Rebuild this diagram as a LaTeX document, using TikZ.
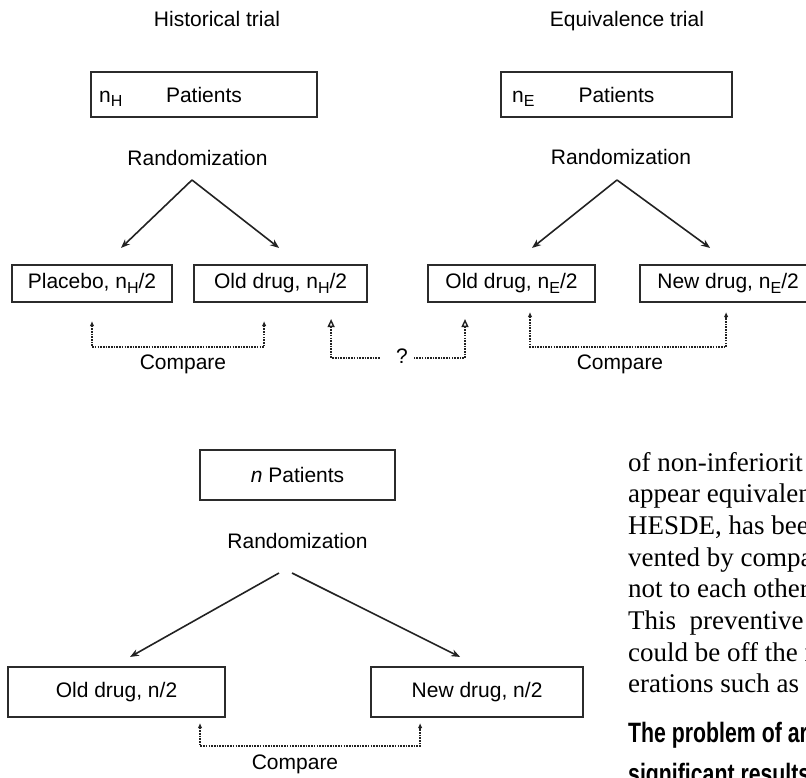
\documentclass[tikz,border=0pt]{standalone}
\usepackage{fontspec}
\setmainfont{Liberation Serif}
\setsansfont{Liberation Sans}
\newfontfamily\headfont[FakeStretch=0.76]{Liberation Sans}
\usepackage{tikz}
\usetikzlibrary{arrows.meta,positioning}
\definecolor{boxgray}{HTML}{2B2B2B}
\definecolor{linegray}{HTML}{222222}
\newcommand{\diagfont}{\sffamily\fontsize{21}{25}\selectfont}
\newcommand{\bodyfont}{\rmfamily\fontsize{27}{32}\selectfont}
\newcommand{\headingfont}{\headfont\bfseries\fontsize{28}{32}\selectfont}
\newcommand{\lowidx}[1]{\raisebox{-0.4ex}{\fontsize{16}{18}\selectfont #1}}

\begin{document}
\begin{tikzpicture}[
    x=1pt, y=-1pt,
    lbl/.style={font=\diagfont, inner sep=0pt},
    trialbox/.style={lbl, draw=boxgray, line width=2.1pt, minimum height=45pt},
    armbox/.style={lbl, draw=boxgray, line width=2.1pt, minimum height=37pt},
    split/.style={-{Stealth[length=9pt,width=7pt]}, line width=1.6pt, draw=linegray},
    cmp/.style={line width=1.6pt, dash pattern=on 1.6pt off 1.1pt, draw=linegray},
    cmptip/.style={cmp, {Latex[length=5pt,width=4.5pt]}-{Latex[length=5pt,width=4.5pt]}},
    qtip/.style={cmp, {Triangle[open,length=8pt,width=7pt,line width=1.4pt]}-},
    bodyline/.style={font=\bodyfont, anchor=base west, inner sep=0pt}
]
\useasboundingbox (0,0) rectangle (806,777);

% historical trial
\node[lbl, anchor=base] (histtitle) at (217,26) {Historical trial};
\node[trialbox, minimum width=226pt] (histpat) at (204,94.5) {Patients};
\node[lbl, anchor=base west] (histn) at ([xshift=9pt]histpat.base west) {n\lowidx{H}};
\node[lbl] (histrand) at (197.5,158) {Randomization};
\coordinate (histfork) at (192,180);
\node[armbox, minimum width=160pt] (placebo) at (92,283.5) {Placebo, n\lowidx{H}/2};
\node[armbox, minimum width=173pt] (oldh) [right=20pt of placebo] {Old drug, n\lowidx{H}/2};

\draw[split] (histfork) -- ([xshift=29pt,yshift=16pt]placebo.north);
\draw[split] (histfork) -- ([xshift=-1.5pt,yshift=16pt]oldh.north);
\draw[cmptip] ([yshift=-18pt]placebo.south) -- ++(0,26) -| ([xshift=-16.5pt,yshift=-18pt]oldh.south);
\node[lbl] (histcmp) at (183,364) {Compare};

% equivalence trial
\node[lbl, anchor=base] (eqtitle) at (627,26) {Equivalence trial};
\node[trialbox, minimum width=231pt] (eqpat) at (616.5,94.5) {Patients};
\node[lbl, anchor=base west] (eqn) at ([xshift=12pt]eqpat.base west) {n\lowidx{E}};
\node[lbl] (eqrand) at (621,157) {Randomization};
\coordinate (eqfork) at (617,180);
\node[armbox, minimum width=167pt] (olde) at (511.5,283.5) {Old drug, n\lowidx{E}/2};
\node[armbox, minimum width=176pt] (newe) [right=43pt of olde] {New drug, n\lowidx{E}/2};

\draw[split] (eqfork) -- ([xshift=20.5pt,yshift=16pt]olde.north);
\draw[split] (eqfork) -- ([xshift=-18pt,yshift=16pt]newe.north);
\draw[cmptip] ([xshift=18.5pt,yshift=-9pt]olde.south) -- ++(0,35) -| ([xshift=-2pt,yshift=-9pt]newe.south);
\node[lbl] (eqcmp) at (620,364) {Compare};

% link between the two old drug arms
\node[lbl] (qmark) at (402,356) {?};
\draw[qtip] ([xshift=50.5pt,yshift=-16pt]oldh.south) |- ([xshift=-16pt,yshift=-2pt]qmark.west);
\draw[qtip] ([xshift=-46.5pt,yshift=-16pt]olde.south) |- ([xshift=6pt,yshift=-2pt]qmark.east);

% single trial
\node[trialbox, minimum width=195pt, minimum height=50pt] (npat) at (297.5,475) {\textit{n} Patients};
\node[lbl] (botrand) [below=32.5pt of npat] {Randomization};
\coordinate (botfork) at (285.5,573);
\node[armbox, minimum width=217pt, minimum height=50pt] (oldn) at (116.5,692) {Old drug, n/2};
\node[armbox, minimum width=212pt, minimum height=50pt] (newn) [right=144pt of oldn] {New drug, n/2};

\draw[split] ([xshift=-6.5pt]botfork) -- ([xshift=13.5pt,yshift=9pt]oldn.north);
\draw[split] ([xshift=6.5pt]botfork) -- ([xshift=-17pt,yshift=9pt]newn.north);
\draw[cmptip] ([xshift=83.5pt,yshift=-5pt]oldn.south) -- ++(0,23) -| ([xshift=-57pt,yshift=-5pt]newn.south);
\node[lbl] (botcmp) at (295,764) {Compare};

% page text beside the figure
\foreach \txt [count=\k] in {of non-inferiorit, appear equivalen, {HESDE, has been}, vented by compar, not to each other, {This\ \ preventive}, could be off the r, erations such as s}
  \node[bodyline] (body\k) at (628,{439.3+31.7*\k}) {\txt};
\node[bodyline, font=\headingfont] (head1) at (628,742) {The problem of ar};
\node[bodyline, font=\headingfont] (head2) at (628,783) {significant results};
\end{tikzpicture}
\end{document}
